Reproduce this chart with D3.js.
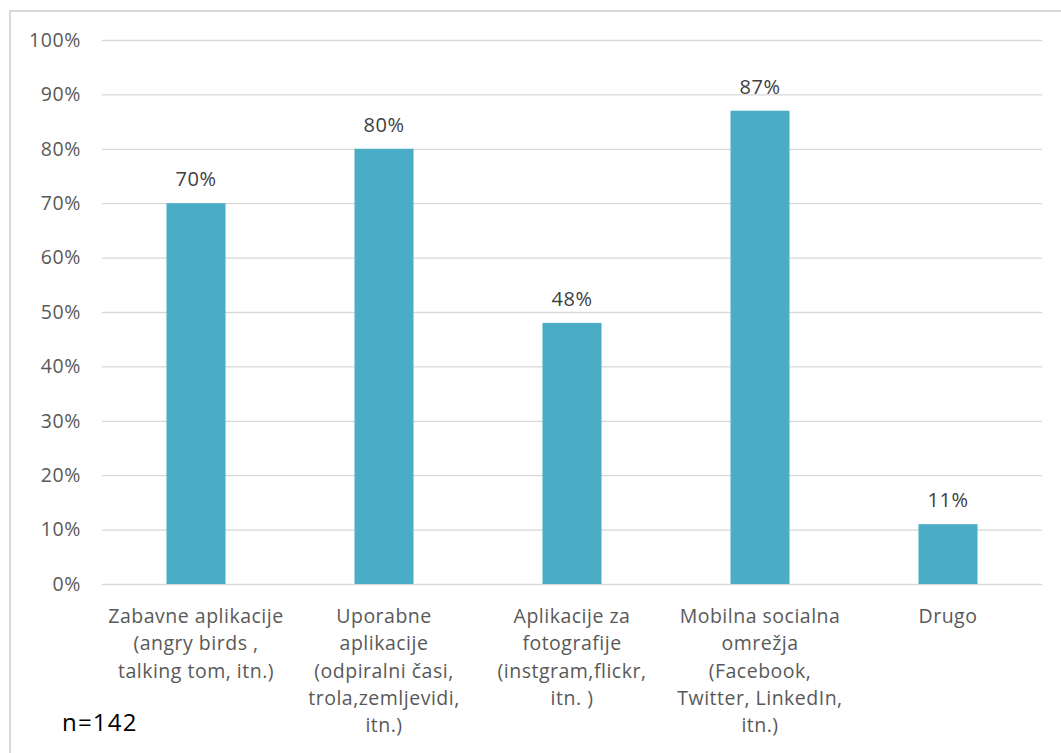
<!DOCTYPE html>
<html>
<head>
<meta charset="utf-8">
<script src="https://cdn.jsdelivr.net/npm/d3@7"></script>
<style>
  html, body { margin: 0; padding: 0; background: #fff; }
  svg { display: block; }
  text { font-family: "Open Sans", "Liberation Sans", sans-serif; }
</style>
</head>
<body>
<svg id="chart" width="1061" height="753"></svg>
<script>
// Share of respondents using each type of mobile app
const categories = [
  ["Zabavne aplikacije", "(angry birds ,", "talking tom, itn.)"],
  ["Uporabne", "aplikacije", "(odpiralni časi,", "trola,zemljevidi,", "itn.)"],
  ["Aplikacije za", "fotografije", "(instgram,flickr,", "itn. )"],
  ["Mobilna socialna", "omrežja", "(Facebook,", "Twitter, LinkedIn,", "itn.)"],
  ["Drugo"]
];
const values = [70, 80, 48, 87, 11];
const tickValues = [0, 10, 20, 30, 40, 50, 60, 70, 80, 90, 100];
const sampleNote = "n=142";

const svg = d3.select("#chart");
const plotLeft = 102, plotRight = 1042, plotTop = 40, plotBottom = 584;

// chart frame
svg.append("rect")
  .attr("x", 10).attr("y", 11)
  .attr("width", 1070).attr("height", 760)
  .attr("fill", "#fff").attr("stroke", "#d9d9d9").attr("stroke-width", 2);

const x = d3.scaleBand().domain(d3.range(categories.length))
  .range([plotLeft, plotRight]).paddingInner(0.686).paddingOuter(0.343);
const y = d3.scaleLinear().domain([0, 100]).range([plotBottom, plotTop]);

// gridlines + y labels
const yAxis = d3.axisLeft(y).tickValues(tickValues)
  .tickSize(-(plotRight - plotLeft)).tickPadding(21)
  .tickFormat(d => d + "%");
const gy = svg.append("g").attr("transform", `translate(${plotLeft},0)`).call(yAxis);
gy.select(".domain").remove();
gy.selectAll(".tick line").attr("stroke", "#d9d9d9").attr("stroke-width", 1.3);
gy.selectAll(".tick text")
  .attr("fill", "#595959").style("font-size", "19.5px").style("letter-spacing", "0.6px");

// bars
svg.append("g").selectAll("rect").data(values).join("rect")
  .attr("x", (d, i) => x(i))
  .attr("y", d => y(d))
  .attr("width", x.bandwidth())
  .attr("height", d => y(0) - y(d))
  .attr("fill", "#4bacc6");

// value labels
svg.append("g").selectAll("text").data(values).join("text")
  .attr("x", (d, i) => x(i) + x.bandwidth() / 2)
  .attr("y", d => y(d) - 17)
  .attr("text-anchor", "middle")
  .attr("fill", "#404040")
  .style("font-size", "20px")
  .style("letter-spacing", "0.5px")
  .text(d => d + "%");

// category labels
const cat = svg.append("g").selectAll("text").data(categories).join("text")
  .attr("x", (d, i) => x(i) + x.bandwidth() / 2)
  .attr("y", 623)
  .attr("text-anchor", "middle")
  .attr("fill", "#595959")
  .style("font-size", "19.5px")
  .style("letter-spacing", "0.5px");
cat.selectAll("tspan").data((d, i) => d.map(t => ({t, i}))).join("tspan")
  .attr("x", d => x(d.i) + x.bandwidth() / 2)
  .attr("dy", (d, j) => j === 0 ? 0 : 27.3)
  .text(d => d.t);

// sample size note
svg.append("text")
  .attr("x", 62).attr("y", 731)
  .attr("fill", "#000")
  .style("font-size", "24px")
  .style("letter-spacing", "1.2px")
  .text(sampleNote);
</script>
</body>
</html>
